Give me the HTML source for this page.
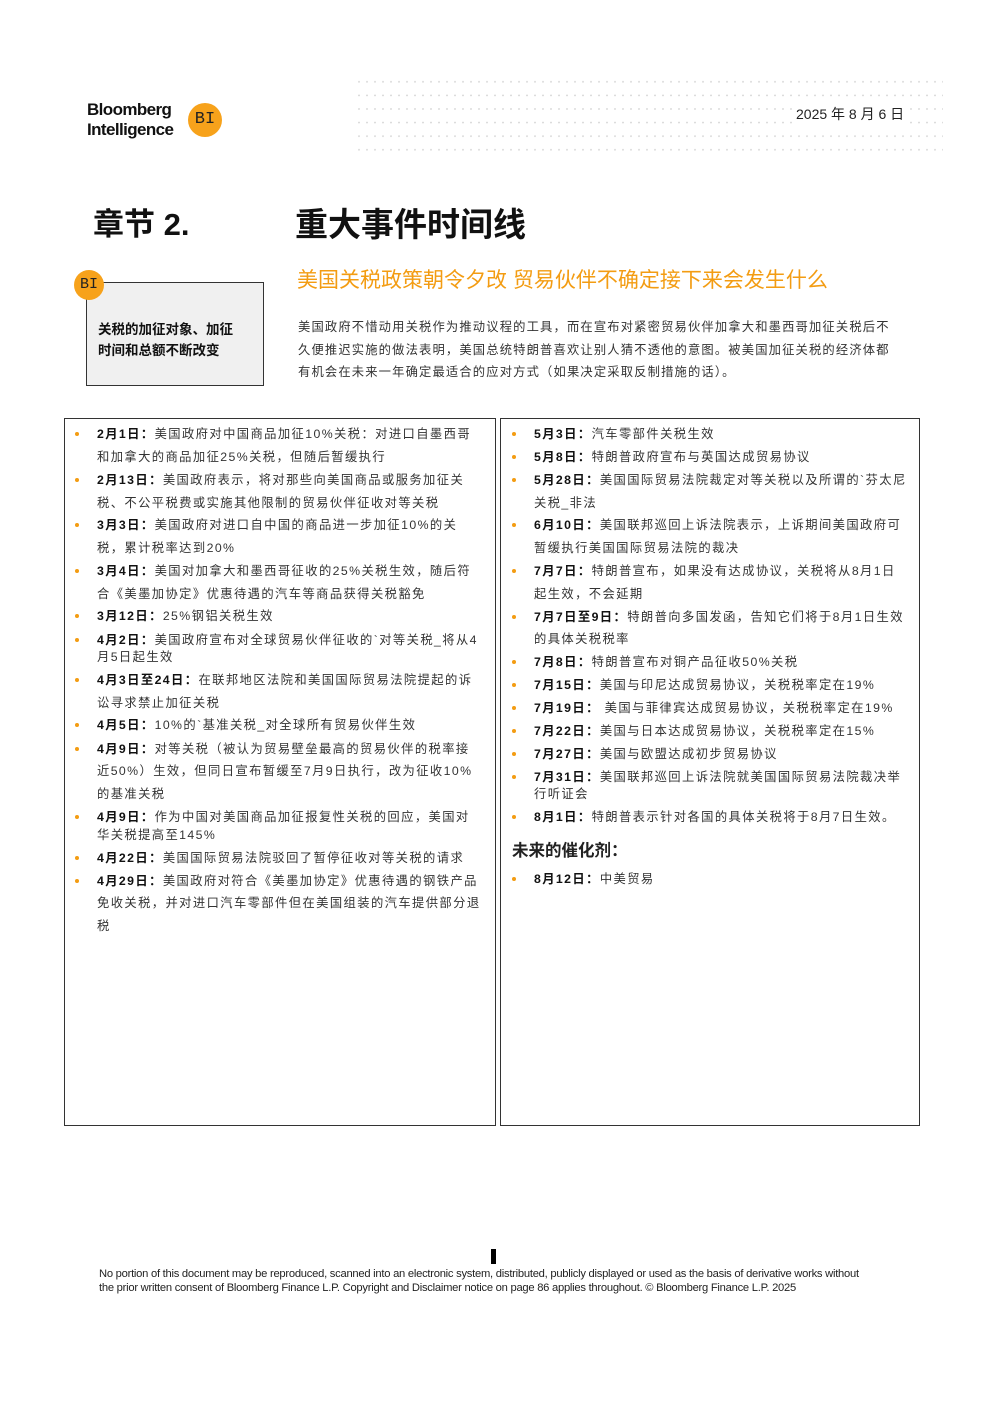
<!DOCTYPE html>
<html><head><meta charset="utf-8">
<style>
*{margin:0;padding:0;box-sizing:border-box}
body{width:992px;height:1403px;background:#fff;position:relative;overflow:hidden;font-family:"Liberation Sans","Noto Sans CJK SC",sans-serif;color:#222}
.a{position:absolute;white-space:nowrap}
.l{position:absolute;white-space:nowrap;font-size:12.3px;line-height:16px;color:#333;letter-spacing:1.4px}
.l b{color:#111}
.bl::before{content:"";position:absolute;left:-22px;top:6px;width:4px;height:4px;border-radius:50%;background:#f39c12}
.c{position:absolute;border-radius:50%;background:#f7a21b;color:#222;text-align:center;font-family:"Liberation Mono",monospace}
.box{position:absolute;border:1.5px solid #333}
</style></head><body>
<div class="a" style="left:355px;top:75px;width:588px;height:84px;background-image:radial-gradient(circle,#d4d4d4 0.7px,transparent 1px);background-size:8px 13.6px;"></div>
<div class="a" style="left:87px;top:100px;font-size:17px;line-height:20px;font-weight:bold;letter-spacing:-0.6px;color:#111">Bloomberg<br>Intelligence</div>
<div class="c" style="left:188px;top:103px;width:34px;height:34px;line-height:34px;font-size:17px">BI</div>
<div class="a" style="left:796px;top:104px;font-size:14px;color:#222;background:#fff;padding-right:4px">2025 年 8 月 6 日</div>
<div class="a" style="left:93px;top:199px;font-size:31px;font-weight:bold;color:#111">章节 2.</div>
<div class="a" style="left:295px;top:198px;font-size:33px;font-weight:bold;color:#111">重大事件时间线</div>
<div class="a" style="left:297px;top:264px;font-size:21px;color:#f39c12">美国关税政策朝令夕改 贸易伙伴不确定接下来会发生什么</div>
<div class="box" style="left:86px;top:282px;width:178px;height:104px;background:#f0f0f0"></div>
<div class="c" style="left:74px;top:270px;width:30px;height:30px;line-height:30px;font-size:15px">BI</div>
<div class="a" style="left:98px;top:319px;font-size:13.5px;line-height:21px;font-weight:bold;color:#111">关税的加征对象、加征<br>时间和总额不断改变</div>
<div class="a" style="left:298px;top:316px;font-size:12.3px;line-height:22.5px;color:#333;letter-spacing:1.15px">美国政府不惜动用关税作为推动议程的工具，而在宣布对紧密贸易伙伴加拿大和墨西哥加征关税后不<br>久便推迟实施的做法表明，美国总统特朗普喜欢让别人猜不透他的意图。被美国加征关税的经济体都<br>有机会在未来一年确定最适合的应对方式（如果决定采取反制措施的话）。</div>

<div class="box" style="left:64px;top:418px;width:432px;height:708px"></div>
<div class="box" style="left:500px;top:418px;width:420px;height:708px"></div>

<div style="position:absolute;left:97px;top:0">
<div class="l bl" style="top:426px"><b>2月1日：</b>美国政府对中国商品加征10%关税：对进口自墨西哥</div>
<div class="l" style="top:449px">和加拿大的商品加征25%关税，但随后暂缓执行</div>
<div class="l bl" style="top:472px"><b>2月13日：</b>美国政府表示，将对那些向美国商品或服务加征关</div>
<div class="l" style="top:495px">税、不公平税费或实施其他限制的贸易伙伴征收对等关税</div>
<div class="l bl" style="top:517px"><b>3月3日：</b>美国政府对进口自中国的商品进一步加征10%的关</div>
<div class="l" style="top:540px">税，累计税率达到20%</div>
<div class="l bl" style="top:563px"><b>3月4日：</b>美国对加拿大和墨西哥征收的25%关税生效，随后符</div>
<div class="l" style="top:586px">合《美墨加协定》优惠待遇的汽车等商品获得关税豁免</div>
<div class="l bl" style="top:608px"><b>3月12日：</b>25%钢铝关税生效</div>
<div class="l bl" style="top:632px"><b>4月2日：</b>美国政府宣布对全球贸易伙伴征收的`对等关税_将从4</div>
<div class="l" style="top:649px">月5日起生效</div>
<div class="l bl" style="top:672px"><b>4月3日至24日：</b>在联邦地区法院和美国国际贸易法院提起的诉</div>
<div class="l" style="top:695px">讼寻求禁止加征关税</div>
<div class="l bl" style="top:717px"><b>4月5日：</b>10%的`基准关税_对全球所有贸易伙伴生效</div>
<div class="l bl" style="top:741px"><b>4月9日：</b>对等关税（被认为贸易壁垒最高的贸易伙伴的税率接</div>
<div class="l" style="top:763px">近50%）生效，但同日宣布暂缓至7月9日执行，改为征收10%</div>
<div class="l" style="top:786px">的基准关税</div>
<div class="l bl" style="top:809px"><b>4月9日：</b>作为中国对美国商品加征报复性关税的回应，美国对</div>
<div class="l" style="top:827px">华关税提高至145%</div>
<div class="l bl" style="top:850px"><b>4月22日：</b>美国国际贸易法院驳回了暂停征收对等关税的请求</div>
<div class="l bl" style="top:873px"><b>4月29日：</b>美国政府对符合《美墨加协定》优惠待遇的钢铁产品</div>
<div class="l" style="top:895px">免收关税，并对进口汽车零部件但在美国组装的汽车提供部分退</div>
<div class="l" style="top:918px">税</div>
</div>

<div style="position:absolute;left:534px;top:0">
<div class="l bl" style="top:426px"><b>5月3日：</b>汽车零部件关税生效</div>
<div class="l bl" style="top:449px"><b>5月8日：</b>特朗普政府宣布与英国达成贸易协议</div>
<div class="l bl" style="top:472px"><b>5月28日：</b>美国国际贸易法院裁定对等关税以及所谓的`芬太尼</div>
<div class="l" style="top:495px">关税_非法</div>
<div class="l bl" style="top:517px"><b>6月10日：</b>美国联邦巡回上诉法院表示，上诉期间美国政府可</div>
<div class="l" style="top:540px">暂缓执行美国国际贸易法院的裁决</div>
<div class="l bl" style="top:563px"><b>7月7日：</b>特朗普宣布，如果没有达成协议，关税将从8月1日</div>
<div class="l" style="top:586px">起生效，不会延期</div>
<div class="l bl" style="top:609px"><b>7月7日至9日：</b>特朗普向多国发函，告知它们将于8月1日生效</div>
<div class="l" style="top:631px">的具体关税税率</div>
<div class="l bl" style="top:654px"><b>7月8日：</b>特朗普宣布对铜产品征收50%关税</div>
<div class="l bl" style="top:677px"><b>7月15日：</b>美国与印尼达成贸易协议，关税税率定在19%</div>
<div class="l bl" style="top:700px"><b>7月19日：</b> 美国与菲律宾达成贸易协议，关税税率定在19%</div>
<div class="l bl" style="top:723px"><b>7月22日：</b>美国与日本达成贸易协议，关税税率定在15%</div>
<div class="l bl" style="top:746px"><b>7月27日：</b>美国与欧盟达成初步贸易协议</div>
<div class="l bl" style="top:769px"><b>7月31日：</b>美国联邦巡回上诉法院就美国国际贸易法院裁决举</div>
<div class="l" style="top:786px">行听证会</div>
<div class="l bl" style="top:809px"><b>8月1日：</b>特朗普表示针对各国的具体关税将于8月7日生效。</div>
<div class="l bl" style="top:871px"><b>8月12日：</b>中美贸易</div>
</div>
<div class="a" style="left:512px;top:837px;font-size:16.5px;font-weight:bold;color:#222">未来的催化剂：</div>

<div class="a" style="left:491px;top:1249px;width:5px;height:15px;background:#000"></div>
<div class="a" style="left:99px;top:1267px;font-size:11.2px;line-height:14px;color:#222;letter-spacing:-0.25px">No portion of this document may be reproduced, scanned into an electronic system, distributed, publicly displayed or used as the basis of derivative works without<br>the prior written consent of Bloomberg Finance L.P. Copyright and Disclaimer notice on page 86 applies throughout. © Bloomberg Finance L.P. 2025</div>
</body></html>
